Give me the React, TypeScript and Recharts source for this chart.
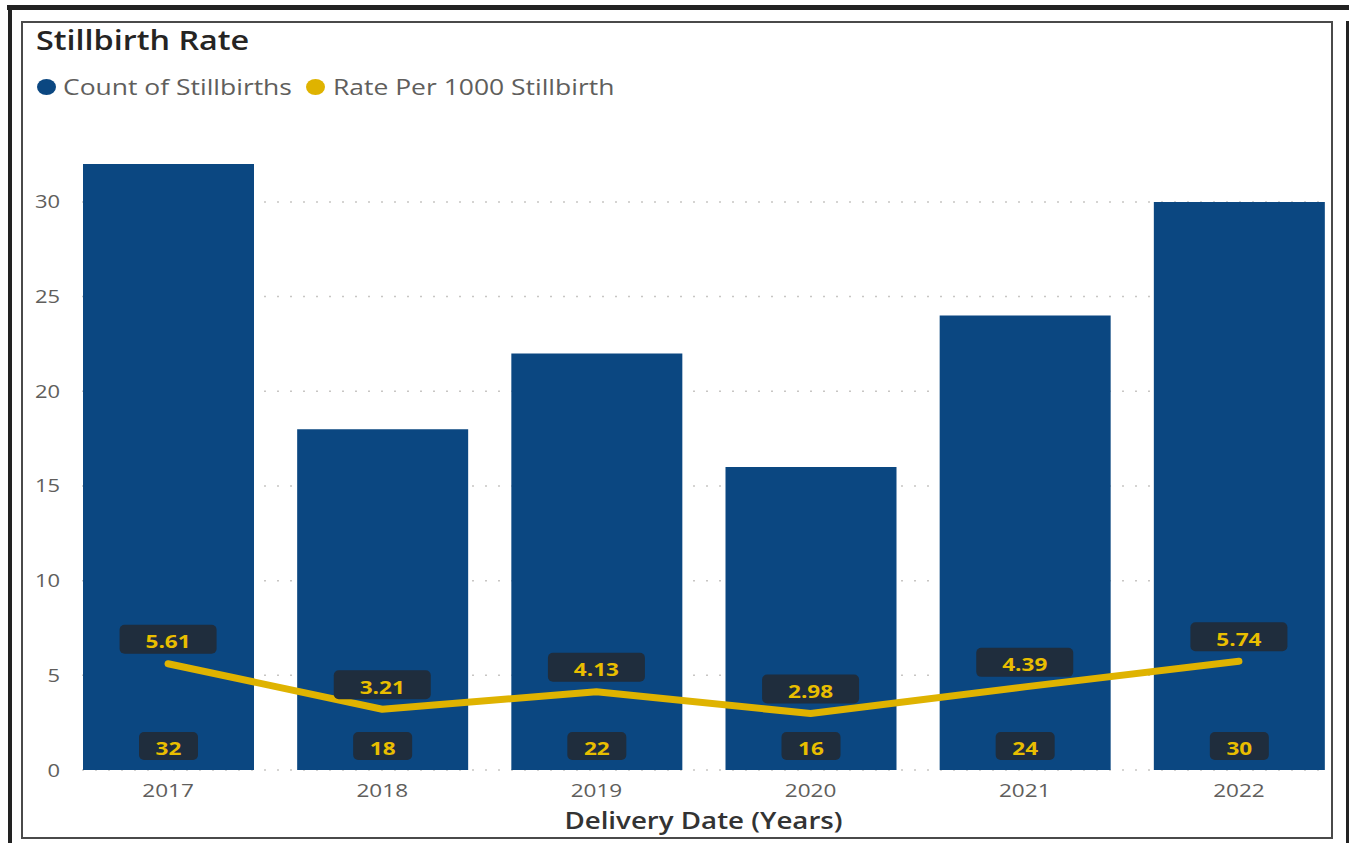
import React from "react";
import {
  ComposedChart,
  Bar,
  Line,
  XAxis,
  YAxis,
  CartesianGrid,
  LabelList,
} from "recharts";

const years = ["2017", "2018", "2019", "2020", "2021", "2022"];
const counts = [32, 18, 22, 16, 24, 30];
const rates = [5.61, 3.21, 4.13, 2.98, 4.39, 5.74];
const yTicks = [0, 5, 10, 15, 20, 25, 30];

const data = years.map((year, i) => ({ year, count: counts[i], rate: rates[i] }));

const FONT = '"Segoe UI", "Open Sans", "Noto Sans", sans-serif';
const BAR_COLOR = "#0B4781";
const LINE_COLOR = "#DFB300";
const BOX_COLOR = "#1F2D3D";
const LABEL_COLOR = "#E9BE00";
const SX = 1.22; // horizontal stretch of the original rendering

const LABEL_FS = 18.5;

const StretchText = ({ x, y, anchor, fs, weight, fill, children }: any) => (
  <text
    transform={`translate(${x},${y}) scale(${SX},1)`}
    x={0}
    y={0}
    textAnchor={anchor}
    fill={fill}
    fontFamily={FONT}
    fontWeight={weight}
    fontSize={fs}
  >
    {children}
  </text>
);

const RateLabel = (props: any) => {
  const { x, y, value } = props;
  const w = 97;
  const h = 29;
  const bottom = y - 10;
  const cy = bottom - h / 2;
  return (
    <g>
      <rect x={x - w / 2} y={bottom - h} width={w} height={h} rx={5} ry={5} fill={BOX_COLOR} />
      <StretchText x={x} y={cy + 9} anchor="middle" fs={LABEL_FS} weight={700} fill={LABEL_COLOR}>
        {Number(value).toFixed(2)}
      </StretchText>
    </g>
  );
};

const CountLabel = (props: any) => {
  const { x, y, width, height, value } = props;
  const w = 59;
  const h = 28;
  const cx = x + width / 2;
  const bottom = y + height - 10;
  const cy = bottom - h / 2;
  return (
    <g>
      <rect x={cx - w / 2} y={bottom - h} width={w} height={h} rx={5} ry={5} fill={BOX_COLOR} />
      <StretchText x={cx} y={cy + 9} anchor="middle" fs={LABEL_FS} weight={700} fill={LABEL_COLOR}>
        {value}
      </StretchText>
    </g>
  );
};

const XTick = (props: any) => {
  const { x, y, payload } = props;
  return (
    <StretchText x={x} y={y + 27} anchor="middle" fs={18.5} weight={400} fill="#605E5C">
      {payload.value}
    </StretchText>
  );
};

const YTick = (props: any) => {
  const { x, y, payload } = props;
  return (
    <StretchText x={x} y={y + 6.5} anchor="end" fs={18} weight={400} fill="#605E5C">
      {payload.value}
    </StretchText>
  );
};

const stretchDiv: React.CSSProperties = {
  position: "absolute",
  transform: `scaleX(${SX})`,
  transformOrigin: "left center",
  whiteSpace: "nowrap",
};

export default function App() {
  return (
    <div
      style={{
        position: "absolute",
        left: 0,
        top: 0,
        width: 1349,
        height: 843,
        background: "#ffffff",
        overflow: "hidden",
        fontFamily: FONT,
      }}
    >
      {/* outer dark frame pieces */}
      <div style={{ position: "absolute", left: 7, top: 5, width: 1342, height: 5, background: "#222" }} />
      <div style={{ position: "absolute", left: 8, top: 5, width: 4, height: 838, background: "#222" }} />
      <div style={{ position: "absolute", left: 1346, top: 21, width: 3, height: 822, background: "#222" }} />
      {/* inner frame */}
      <div
        style={{
          position: "absolute",
          left: 21,
          top: 21,
          width: 1312,
          height: 818,
          border: "2px solid #4a4a4a",
          boxSizing: "border-box",
        }}
      />

      {/* title */}
      <div
        style={{
          ...stretchDiv,
          left: 36,
          top: 22,
          fontSize: 26.5,
          fontWeight: 600,
          color: "#252423",
          lineHeight: "36px",
        }}
      >
        Stillbirth Rate
      </div>

      {/* legend */}
      <div
        style={{
          position: "absolute",
          left: 37,
          top: 79,
          width: 19,
          height: 16,
          borderRadius: "50%",
          background: BAR_COLOR,
        }}
      />
      <div
        style={{
          ...stretchDiv,
          left: 63,
          top: 72,
          fontSize: 21.7,
          color: "#605E5C",
          lineHeight: "30px",
        }}
      >
        Count of Stillbirths
      </div>
      <div
        style={{
          position: "absolute",
          left: 306,
          top: 79,
          width: 19,
          height: 16,
          borderRadius: "50%",
          background: LINE_COLOR,
        }}
      />
      <div
        style={{
          ...stretchDiv,
          left: 333,
          top: 72,
          fontSize: 21.7,
          color: "#605E5C",
          lineHeight: "30px",
        }}
      >
        Rate Per 1000 Stillbirth
      </div>

      <div style={{ position: "absolute", left: 0, top: 0 }}>
        <ComposedChart
          width={1349}
          height={843}
          data={data}
          margin={{ top: 164, right: 24, bottom: 40, left: 22 }}
          barCategoryGap={0}
        >
          <CartesianGrid
            horizontal={true}
            vertical={false}
            syncWithTicks={true}
            stroke="#c8c6c4"
            strokeDasharray="2 11"
            strokeWidth={1.5}
          />
          <XAxis
            dataKey="year"
            axisLine={false}
            tickLine={false}
            tickSize={0}
            tickMargin={0}
            height={33}
            padding={{ left: -21, right: -21 }}
            tick={<XTick />}
            interval={0}
            label={(props: any) => {
              const vb = props.viewBox || {};
              const cx = (vb.x ?? 82) + (vb.width ?? 1243) / 2;
              return (
                <text
                  transform={`translate(${cx},${829}) scale(${SX},1)`}
                  textAnchor="middle"
                  fill="#333333"
                  fontFamily={FONT}
                  fontWeight={600}
                  fontSize={22.7}
                >
                  Delivery Date (Years)
                </text>
              );
            }}
          />
          <YAxis
            width={60}
            domain={[0, 32]}
            ticks={yTicks}
            axisLine={false}
            tickLine={false}
            tickSize={0}
            tickMargin={22}
            tick={<YTick />}
            allowDataOverflow={true}
          />
          <Bar dataKey="count" fill={BAR_COLOR} barSize={171} isAnimationActive={false}>
            <LabelList dataKey="count" content={<CountLabel />} />
          </Bar>
          <Line
            dataKey="rate"
            type="linear"
            stroke={LINE_COLOR}
            strokeWidth={7}
            strokeLinecap="round"
            strokeLinejoin="round"
            dot={false}
            activeDot={false}
            isAnimationActive={false}
          >
            <LabelList dataKey="rate" content={<RateLabel />} />
          </Line>
        </ComposedChart>
      </div>
    </div>
  );
}
